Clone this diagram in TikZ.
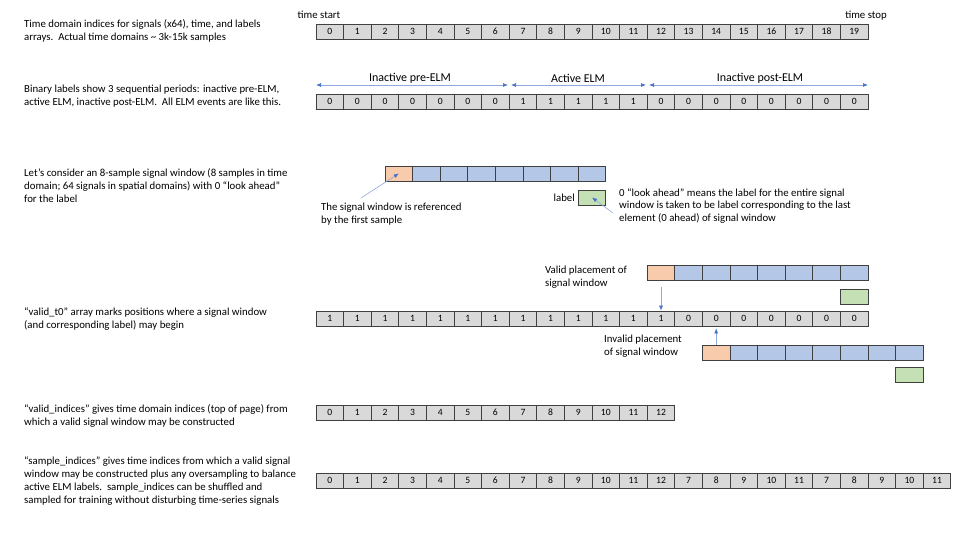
\documentclass[tikz,border=0pt]{standalone}
\usepackage{fontspec}
\setmainfont{Carlito}
\usetikzlibrary{arrows.meta}
\definecolor{cellgray}{HTML}{D9D9D9}
\definecolor{celledge}{HTML}{404040}
\definecolor{winorange}{HTML}{F8CBAD}
\definecolor{winblue}{HTML}{B4C7E7}
\definecolor{labgreen}{HTML}{C5E0B4}
\definecolor{arrblue}{HTML}{4472C4}
\definecolor{linblue}{HTML}{8FAADC}
\tikzset{
  cell/.style={draw=celledge, line width=0.8pt, fill=cellgray, minimum width=27.6pt, minimum height=15pt, inner sep=0pt, font=\fontsize{9.6}{11}\selectfont},
  ocell/.style={cell, fill=winorange},
  bcell/.style={cell, fill=winblue},
  gcell/.style={cell, fill=labgreen},
  txt/.style={anchor=west, align=left, inner sep=0pt, font=\fontsize{10.8}{12.8}\selectfont},
  lbl/.style={inner sep=0pt, font=\fontsize{10.8}{12.8}\selectfont},
  biglbl/.style={inner sep=0pt, font=\fontsize{12}{14}\selectfont},
  span/.style={draw=linblue, line width=0.7pt, {Latex[length=5pt,width=4pt,color=arrblue]}-{Latex[length=5pt,width=4pt,color=arrblue]}},
  callout/.style={draw=linblue, line width=0.6pt, -{Latex[length=5pt,width=4pt,color=arrblue]}}
}
\begin{document}
\begin{tikzpicture}[x=1pt,y=-1pt]
\useasboundingbox (0,0) rectangle (960,540);

% left descriptions
\node[txt] (d1) at (24,31) {Time domain indices for signals (x64), time, and labels\\arrays.\ \ Actual time domains \textasciitilde{} 3k-15k samples};
\node[txt] (d2) at (24,96) {Binary labels show 3 sequential periods: inactive pre-ELM,\\active ELM, inactive post-ELM.\ \ All ELM events are like this.};
\node[txt] (d3) at (24,185.5) {Let’s consider an 8-sample signal window (8 samples in time\\domain; 64 signals in spatial domains) with 0 “look ahead”\\for the label};
\node[txt] (d4) at (24,319) {“valid\_t0” array marks positions where a signal window\\(and corresponding label) may begin};
\node[txt] (d5) at (24,416) {“valid\_indices” gives time domain indices (top of page) from\\which a valid signal window may be constructed};
\node[txt] (d6) at (24,481) {“sample\_indices” gives time indices from which a valid signal\\window may be constructed plus any oversampling to balance\\active ELM labels.\ \ sample\_indices can be shuffled and\\sampled for training without disturbing time-series signals};

% row 1: time indices
\foreach \v [count=\i from 0] in {0,...,19}
  \node[cell] (a\i) at ({329.8+27.6*\i},31.5) {\v};
\node[lbl] (tstart) at (319,15) {time start};
\node[lbl] (tstop) at (866,16) {time stop};

% row 2: binary labels
\foreach \v [count=\i from 0] in {0,0,0,0,0,0,0,1,1,1,1,1,0,0,0,0,0,0,0,0}
  \node[cell] (b\i) at ({329.8+27.6*\i},101.5) {\v};
\coordinate (p0) at (316,85);
\coordinate (p1l) at (508,85);
\coordinate (p1r) at (511,85);
\coordinate (p2l) at (646,85);
\coordinate (p2r) at (649,85);
\coordinate (p3) at (868,85);
\draw[span] (p0) -- (p1l);
\draw[span] (p1r) -- (p2l);
\draw[span] (p2r) -- (p3);
\node[biglbl] (l1) at (410,78.5) {Inactive pre-ELM};
\node[biglbl] (l2) at (578,78.5) {Active ELM};
\node[biglbl] (l3) at (760,78.5) {Inactive post-ELM};

% signal window example
\node[ocell] (w0) at (398.8,173.5) {};
\foreach \i in {1,...,7}
  \node[bcell] (w\i) at ({398.8+27.6*\i},173.5) {};
\node[gcell] (lab) at (592,197.5) {};
\node[lbl, anchor=east] (labtxt) at (575,197.5) {label};
\node[txt] (ref) at (321,214) {The signal window is referenced\\by the first sample};
\node[txt] (look) at (619,206) {0 “look ahead” means the label for the entire signal\\window is taken to be label corresponding to the last\\element (0 ahead) of signal window};
\coordinate (c1) at (361,198);
\coordinate (c2) at (613,213);
\draw[callout] (c1) -- (w0.center);
\draw[callout] (c2) -- (lab.center);

% valid_t0 row
\foreach \v [count=\i from 0] in {1,1,1,1,1,1,1,1,1,1,1,1,1,0,0,0,0,0,0,0}
  \node[cell] (k\i) at ({329.8+27.6*\i},318.5) {\v};

% valid placement
\node[ocell] (v0) at ({329.8+27.6*12},272.5) {};
\foreach \i in {1,...,7}
  \node[bcell] (v\i) at ({329.8+27.6*(12+\i)},272.5) {};
\node[gcell] (vl) at ({329.8+27.6*19},297) {};
\node[txt] (vtxt) at (545,277) {Valid placement of\\signal window};
\draw[callout] ([yshift=-7pt]v0.south) -- (k12.north);

% invalid placement
\node[ocell] (n0) at ({329.8+27.6*14},352.5) {};
\foreach \i in {1,...,7}
  \node[bcell] (n\i) at ({329.8+27.6*(14+\i)},352.5) {};
\node[gcell] (nl) at ({329.8+27.6*21},375) {};
\node[txt] (ntxt) at (604,346) {Invalid placement\\of signal window};
\draw[callout] (n0.north) -- ([yshift=-2pt]k14.south);

% valid indices
\foreach \v [count=\i from 0] in {0,...,12}
  \node[cell] (vi\i) at ({329.8+27.6*\i},412.5) {\v};

% sample indices
\foreach \v [count=\i from 0] in {0,1,2,3,4,5,6,7,8,9,10,11,12,7,8,9,10,11,7,8,9,10,11}
  \node[cell] (s\i) at ({329.8+27.6*\i},480.5) {\v};
\end{tikzpicture}
\end{document}
